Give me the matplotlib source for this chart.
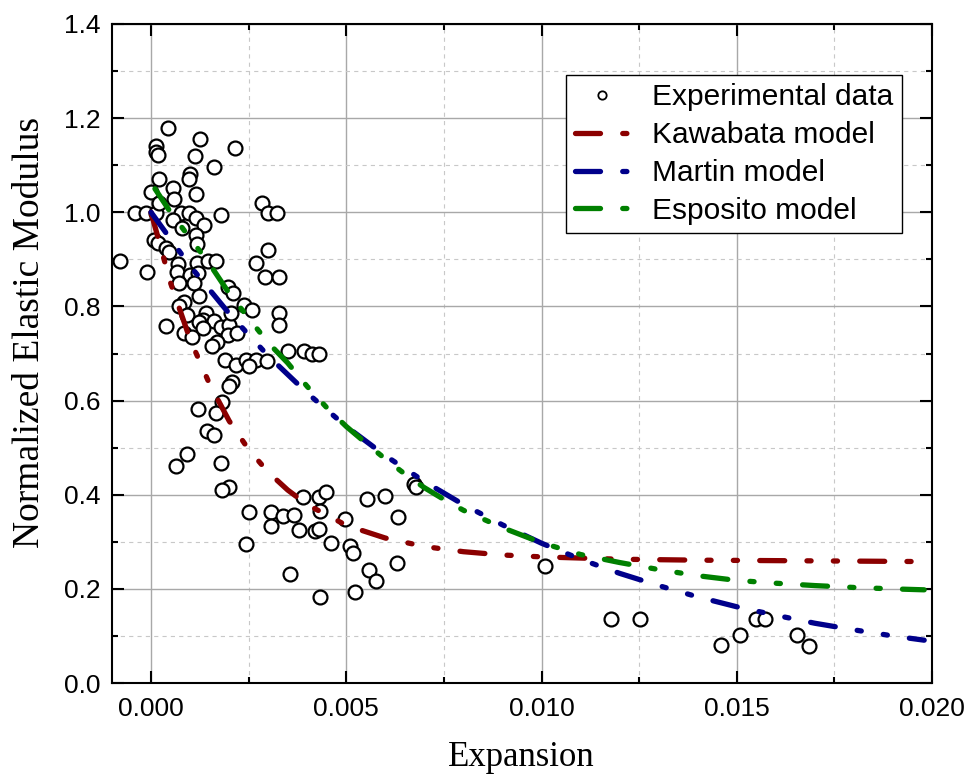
import numpy as np
import matplotlib
matplotlib.use('Agg')
import matplotlib.pyplot as plt
from matplotlib.ticker import MultipleLocator, FormatStrFormatter

plt.rcParams['lines.scale_dashes'] = False

# Measured points: expansion vs. normalized elastic modulus
exp_x = [0.00044, 0.00126, 0.00014, 0.00012, 0.00019, 0.00214, 0.00113, 0.00162, 0.00099, 0.00096,
         0.00020, 0.00055, 0.00115, 0.00000, 0.00059, -0.00041, -0.00014, 0.00012, 0.00020, 0.00076,
         0.00096, 0.00284, 0.00300, 0.00322, 0.00180, 0.00115, 0.00136, 0.00055, 0.00080, 0.00115,
         0.00008, 0.00019, 0.00038, 0.00119, 0.00300, -0.00080, -0.00010, 0.00046, 0.00070, 0.00117,
         0.00145, 0.00166, 0.00268, 0.00292, 0.00328, 0.00067, 0.00100, 0.00121, 0.00072, 0.00110,
         0.00123, 0.00196, 0.00209, 0.00085, 0.00072, 0.00238, 0.00258, 0.00328, 0.00328, 0.00093,
         0.00140, 0.00132, 0.00162, 0.00123, 0.00038, 0.00085, 0.00104, 0.00132, 0.00179, 0.00200,
         0.00196, 0.00221, 0.00170, 0.00157, 0.00350, 0.00190, 0.00217, 0.00244, 0.00270, 0.00298,
         0.00251, 0.00208, 0.00200, 0.00121, 0.00181, 0.00166, 0.00144, 0.00162, 0.00093, 0.00063,
         0.00180, 0.00200, 0.00181, 0.00204, 0.00392, 0.00412, 0.00430, 0.00251, 0.00244, 0.00308,
         0.00307, 0.00338, 0.00367, 0.00379, 0.00356, 0.00390, 0.00429, 0.00449, 0.00432, 0.00420,
         0.00431, 0.00462, 0.00433, 0.00497, 0.00510, 0.00518, 0.00552, 0.00600, 0.00632, 0.00629,
         0.00559, 0.00576, 0.00522, 0.00674, 0.00679, 0.01010, 0.01179, 0.01251, 0.01459, 0.01508,
         0.01549, 0.01573, 0.01654, 0.01685]
exp_y = [1.178, 1.156, 1.140, 1.129, 1.122, 1.136, 1.120, 1.096, 1.081, 1.071,
         1.070, 1.051, 1.039, 1.044, 1.028, 0.998, 0.998, 0.998, 1.020, 0.998,
         0.998, 1.019, 0.998, 0.998, 0.994, 0.987, 0.972, 0.984, 0.966, 0.952,
         0.941, 0.934, 0.924, 0.933, 0.919, 0.897, 0.874, 0.916, 0.890, 0.893,
         0.897, 0.897, 0.892, 0.863, 0.863, 0.874, 0.867, 0.871, 0.849, 0.849,
         0.822, 0.842, 0.828, 0.810, 0.800, 0.803, 0.793, 0.786, 0.761, 0.782,
         0.786, 0.771, 0.768, 0.766, 0.759, 0.743, 0.735, 0.754, 0.757, 0.761,
         0.739, 0.743, 0.725, 0.715, 0.706, 0.686, 0.676, 0.686, 0.686, 0.685,
         0.674, 0.640, 0.630, 0.582, 0.596, 0.573, 0.536, 0.526, 0.487, 0.460,
         0.468, 0.417, 0.409, 0.786, 0.706, 0.700, 0.700, 0.364, 0.295, 0.363,
         0.334, 0.355, 0.358, 0.325, 0.232, 0.396, 0.396, 0.406, 0.365, 0.324,
         0.327, 0.297, 0.182, 0.348, 0.291, 0.277, 0.391, 0.397, 0.352, 0.256,
         0.240, 0.217, 0.194, 0.423, 0.417, 0.249, 0.137, 0.137, 0.081, 0.102,
         0.136, 0.136, 0.103, 0.079]

# Model curves
kaw_x = [0.0, 0.0005, 0.001, 0.0015, 0.002, 0.0025, 0.003, 0.0035, 0.004, 0.005,
         0.006, 0.007, 0.008, 0.009, 0.010, 0.012, 0.014, 0.016, 0.018, 0.0198]
kaw_y = [1.00, 0.85, 0.73, 0.635, 0.557, 0.496, 0.448, 0.41, 0.379, 0.335,
         0.308, 0.29, 0.279, 0.272, 0.268, 0.263, 0.261, 0.26, 0.259, 0.258]

mar_x = [0.0, 0.001, 0.002, 0.003, 0.004, 0.005, 0.006, 0.007, 0.008, 0.009, 0.010,
         0.011, 0.012, 0.013, 0.014, 0.015, 0.016, 0.017, 0.018, 0.019, 0.0198]
mar_y = [1.0, 0.886, 0.785, 0.695, 0.616, 0.545, 0.483, 0.428, 0.379, 0.336, 0.297,
         0.263, 0.233, 0.207, 0.183, 0.162, 0.144, 0.127, 0.113, 0.100, 0.091]

esp_x = [0.0001, 0.0005, 0.001, 0.0015, 0.002, 0.0025, 0.003, 0.0035, 0.004, 0.0045,
         0.005, 0.0055, 0.006, 0.0065, 0.007, 0.0075, 0.008, 0.009, 0.010, 0.011,
         0.012, 0.013, 0.014, 0.015, 0.016, 0.017, 0.018, 0.019, 0.0198]
esp_y = [1.05, 1.0, 0.945, 0.89, 0.828, 0.775, 0.723, 0.68, 0.63, 0.585,
         0.545, 0.51, 0.476, 0.444, 0.415, 0.39, 0.367, 0.33, 0.298, 0.273,
         0.256, 0.241, 0.228, 0.218, 0.212, 0.207, 0.203, 0.200, 0.198]

sans = 'Liberation Sans'
serif = 'Liberation Serif'

fig = plt.figure(figsize=(9.67, 7.79), dpi=100)
ax = fig.add_axes([0.1158, 0.1232, 0.848, 0.846])

dash = (0, (18, 16, 3, 16, 3, 16))
ax.plot(exp_x, exp_y, 'o', ms=10, mfc='white', mec='black', mew=1.6,
        label='Experimental data', zorder=3)
ax.plot(kaw_x, kaw_y, color='#8b0000', lw=3.8, linestyle=dash,
        dash_capstyle='round', label='Kawabata model', zorder=4)
ax.plot(mar_x, mar_y, color='#00008b', lw=3.8, linestyle=dash,
        dash_capstyle='round', label='Martin model', zorder=4)
ax.plot(esp_x, esp_y, color='#008000', lw=3.8, linestyle=dash,
        dash_capstyle='round', label='Esposito model', zorder=4)

ax.set_xlim(-0.001, 0.020)
ax.set_ylim(0.0, 1.4)
ax.xaxis.set_major_locator(MultipleLocator(0.005))
ax.xaxis.set_minor_locator(MultipleLocator(0.0025))
ax.yaxis.set_major_locator(MultipleLocator(0.2))
ax.yaxis.set_minor_locator(MultipleLocator(0.1))
ax.xaxis.set_major_formatter(FormatStrFormatter('%.3f'))
ax.yaxis.set_major_formatter(FormatStrFormatter('%.1f'))

ax.grid(which='major', color='#a8a8a8', lw=1.0, linestyle='-', zorder=0)
ax.grid(which='minor', color='#c8c8c8', lw=0.8, linestyle=(0, (3, 3)), zorder=0)
ax.set_axisbelow(True)

ax.tick_params(which='both', direction='in', top=True, right=True, width=1.5, color='black')
ax.tick_params(which='major', length=8.5)
ax.tick_params(which='minor', length=4.3)
ax.tick_params(axis='x', which='major', pad=10, labelsize=19)
ax.tick_params(axis='y', which='major', pad=8, labelsize=19)
for lab in ax.get_xticklabels() + ax.get_yticklabels():
    lab.set_fontfamily(sans)
for sp in ax.spines.values():
    sp.set_linewidth(1.5)

fig.text(521 / 967, 1 - 757 / 779, 'Expansion', family=serif, fontsize=25,
         ha='center', va='center')
fig.text(30 / 967, 1 - 332 / 779, 'Normalized Elastic Modulus', family=serif,
         fontsize=27, rotation=90, ha='center', va='center')

leg = ax.legend(loc='upper right', bbox_to_anchor=(0.9634, 0.9226), borderaxespad=0,
                prop={'family': sans, 'size': 21.5}, frameon=True, fancybox=False,
                framealpha=1, edgecolor='black', handlelength=1.8, handletextpad=0.8,
                labelspacing=0.33, borderpad=0.28)
leg.get_frame().set_linewidth(1.0)
leg.legend_handles[0].set_markersize(6)
leg.legend_handles[0].set_markeredgewidth(1.3)

fig.savefig('out.png', dpi=100, facecolor='white')
